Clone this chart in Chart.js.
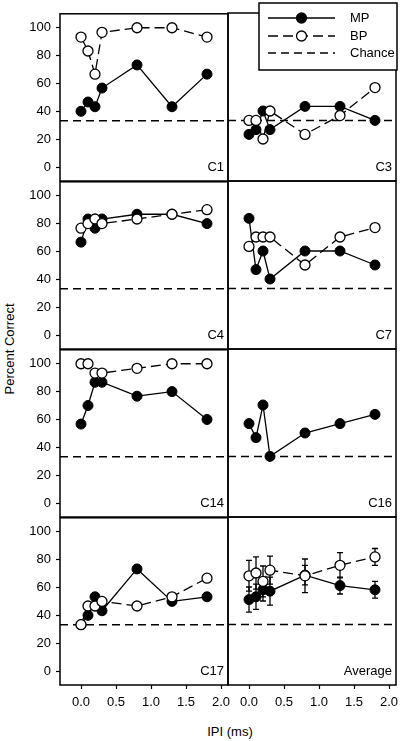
<!DOCTYPE html>
<html>
<head>
<meta charset="utf-8">
<script src="https://cdn.jsdelivr.net/npm/chart.js@4.4.1/dist/chart.umd.min.js"></script>
<style>
  body { margin: 0; background: #fff; }
  #wrap { position: relative; width: 410px; height: 741px; overflow: hidden; font-family: "Liberation Sans", Arial, sans-serif; }
  #wrap canvas { position: absolute; }
  .lbl { position: absolute; font-size: 13px; color: #000; white-space: nowrap; }
</style>
</head>
<body>
<div id="wrap">
  <div class="lbl" id="ylab" style="left:9px; top:349px; transform: translate(-50%, -50%) rotate(-90deg);">Percent Correct</div>
  <div class="lbl" id="xlab" style="left:230px; top:731px; transform: translate(-50%, -50%);">IPI (ms)</div>
</div>
<script>
// IPI values (ms) shared by every panel
const ipi = [0, 0.1, 0.2, 0.3, 0.8, 1.3, 1.8];
const xTicks = [0, 0.5, 1, 1.5, 2];
const yTicks = [0, 20, 40, 60, 80, 100];
const chance = 33.3;

// percent correct per subject, MP = monopolar, BP = bipolar
const mpC1 = [40, 46.7, 43.3, 56.7, 73.3, 43.3, 66.7];
const bpC1 = [93.3, 83.3, 66.7, 96.7, 100, 100, 93.3];
const mpC3 = [23.3, 26.7, 40, 26.7, 43.3, 43.3, 33.3];
const bpC3 = [33.3, 33.3, 20, 40, 23.3, 36.7, 56.7];
const mpC4 = [66.7, 83.3, 76.7, 83.3, 86.7, 86.7, 80];
const bpC4 = [76.7, 80, 83.3, 80, 83.3, 86.7, 90];
const mpC7 = [83.3, 46.7, 60, 40, 60, 60, 50];
const bpC7 = [63.3, 70, 70, 70, 50, 70, 76.7];
const mpC14 = [56.7, 70, 86.7, 86.7, 76.7, 80, 60];
const bpC14 = [100, 100, 93.3, 93.3, 96.7, 100, 100];
const mpC16 = [56.7, 46.7, 70, 33.3, 50, 56.7, 63.3];
const bpC16 = [];
const mpC17 = [33.3, 40, 53.3, 43.3, 73.3, 50, 53.3];
const bpC17 = [33.3, 46.7, 46.7, 50, 46.7, 53.3, 66.7];
const mpAvg = [51, 53, 58, 57, 68.5, 61, 58];
const bpAvg = [68, 70, 64, 72, 68, 75.5, 81.5];
const mpAvgErr = [9, 9, 8, 10, 7, 6, 6];
const bpAvgErr = [11, 11.5, 11, 10, 12, 9, 6];

// panel grid (px)
const colLeft = [60, 228];
const rowTop = [13, 181, 349, 517];
const FONT = '"Liberation Sans", Arial, sans-serif';

Chart.defaults.font.family = FONT;
Chart.defaults.font.size = 13;
Chart.defaults.color = '#000';

function pts(arr) {
    return arr.map((v, i) => ({ x: ipi[i], y: v }));
}

// frame around the plot area + the subject name in the corner
const framePlugin = {
    id: 'frame',
    afterDraw(chart) {
        const a = chart.chartArea, ctx = chart.ctx;
        ctx.save();
        ctx.strokeStyle = '#000';
        ctx.lineWidth = 1.5;
        ctx.strokeRect(a.left, a.top, a.right - a.left, a.bottom - a.top);
        ctx.font = '13px ' + FONT;
        ctx.fillStyle = '#000';
        ctx.textAlign = 'right';
        ctx.textBaseline = 'middle';
        ctx.fillText(chart.options.panelName, a.right - 4, a.bottom - 14);
        ctx.restore();
    }
};

// vertical error bars, drawn under the markers
const errorPlugin = {
    id: 'errbars',
    beforeDatasetsDraw(chart) {
        const ctx = chart.ctx, xs = chart.scales.x, ys = chart.scales.y;
        ctx.save();
        ctx.strokeStyle = '#000';
        ctx.lineWidth = 1.3;
        chart.data.datasets.forEach(ds => {
            if (!ds.errors) return;
            ds.data.forEach((p, j) => {
                const e = ds.errors[j];
                const x = xs.getPixelForValue(p.x);
                const y1 = ys.getPixelForValue(p.y + e);
                const y2 = ys.getPixelForValue(p.y - e);
                ctx.beginPath();
                ctx.moveTo(x, y1); ctx.lineTo(x, y2);
                ctx.moveTo(x - 3, y1); ctx.lineTo(x + 3, y1);
                ctx.moveTo(x - 3, y2); ctx.lineTo(x + 3, y2);
                ctx.stroke();
            });
        });
        ctx.restore();
    }
};

// boxed legend in the upper right corner (absolute page coordinates)
function legendPlugin(offX, offY) {
    return {
        id: 'boxLegend',
        afterDraw(chart) {
            const ctx = chart.ctx;
            ctx.save();
            ctx.translate(-offX, -offY);
            ctx.fillStyle = '#fff';
            ctx.fillRect(259, 3, 138, 67);
            ctx.strokeStyle = '#000';
            ctx.lineWidth = 1.5;
            ctx.strokeRect(259, 3, 138, 67);
            const rows = [
                { y: 18, text: 'MP', dash: [], fill: '#000', marker: true },
                { y: 36, text: 'BP', dash: [10, 5], fill: '#fff', marker: true },
                { y: 53, text: 'Chance', dash: [8, 5], marker: false }
            ];
            rows.forEach(r => {
                ctx.setLineDash(r.dash);
                ctx.lineWidth = 1.3;
                ctx.beginPath();
                ctx.moveTo(268, r.y); ctx.lineTo(335, r.y);
                ctx.stroke();
                ctx.setLineDash([]);
                if (r.marker) {
                    ctx.beginPath();
                    ctx.arc(301.5, r.y, 5, 0, Math.PI * 2);
                    ctx.fillStyle = r.fill;
                    ctx.fill();
                    ctx.stroke();
                }
                ctx.fillStyle = '#000';
                ctx.font = '13px ' + FONT;
                ctx.textAlign = 'left';
                ctx.textBaseline = 'middle';
                ctx.fillText(r.text, 350, r.y);
            });
            ctx.restore();
        }
    };
}

function makePanel(row, col, name, mp, bp, mpErr, bpErr) {
    const cv = document.createElement('canvas');
    cv.width = 238;
    cv.height = 230;
    const left = colLeft[col] - 60, top = rowTop[row] - 12;
    cv.style.left = left + 'px';
    cv.style.top = top + 'px';
    document.getElementById('wrap').appendChild(cv);

    const bottomRow = row === 3, leftCol = col === 0;
    const plugins = [errorPlugin, framePlugin];
    if (row === 0 && col === 1) plugins.push(legendPlugin(left, top));

    new Chart(cv.getContext('2d'), {
        type: 'scatter',
        data: {
            datasets: [
                {
                    label: 'BP', data: pts(bp), showLine: true,
                    borderColor: '#000', borderWidth: 1.3, borderDash: [10, 5],
                    pointRadius: 5, pointBackgroundColor: '#fff',
                    pointBorderColor: '#000', pointBorderWidth: 1.3,
                    errors: bpErr
                },
                {
                    label: 'MP', data: pts(mp), showLine: true,
                    borderColor: '#000', borderWidth: 1.3,
                    pointRadius: 5, pointBackgroundColor: '#000',
                    pointBorderColor: '#000', pointBorderWidth: 1,
                    errors: mpErr
                },
                {
                    label: 'Chance', data: [{ x: -0.3, y: chance }, { x: 2.1, y: chance }],
                    showLine: true, borderColor: '#000', borderWidth: 1.5,
                    borderDash: [8, 5], pointRadius: 0
                }
            ]
        },
        options: {
            panelName: name,
            responsive: false,
            animation: false,
            events: [],
            layout: { padding: { top: 12, right: 10, left: 0, bottom: 0 } },
            plugins: { legend: { display: false }, tooltip: { enabled: false } },
            scales: {
                x: {
                    type: 'linear', min: -0.3, max: 2.1,
                    afterBuildTicks: s => { s.ticks = xTicks.map(v => ({ value: v })); },
                    afterFit: s => { s.height = 50; },
                    border: { display: false },
                    grid: { display: bottomRow, drawOnChartArea: false, tickLength: 4, color: '#000', tickWidth: 1.2 },
                    ticks: { display: bottomRow, padding: 6, maxRotation: 0, callback: v => v.toFixed(1) }
                },
                y: {
                    type: 'linear', min: -10, max: 110,
                    afterBuildTicks: s => { s.ticks = yTicks.map(v => ({ value: v })); },
                    afterFit: s => { s.width = 60; },
                    border: { display: false },
                    grid: { display: leftCol, drawOnChartArea: false, tickLength: 4, color: '#000', tickWidth: 1.2 },
                    ticks: { display: leftCol, padding: 5 }
                }
            }
        },
        plugins: plugins
    });
}

makePanel(0, 0, 'C1', mpC1, bpC1);
makePanel(0, 1, 'C3', mpC3, bpC3);
makePanel(1, 0, 'C4', mpC4, bpC4);
makePanel(1, 1, 'C7', mpC7, bpC7);
makePanel(2, 0, 'C14', mpC14, bpC14);
makePanel(2, 1, 'C16', mpC16, bpC16);
makePanel(3, 0, 'C17', mpC17, bpC17);
makePanel(3, 1, 'Average', mpAvg, bpAvg, mpAvgErr, bpAvgErr);
</script>
</body>
</html>
